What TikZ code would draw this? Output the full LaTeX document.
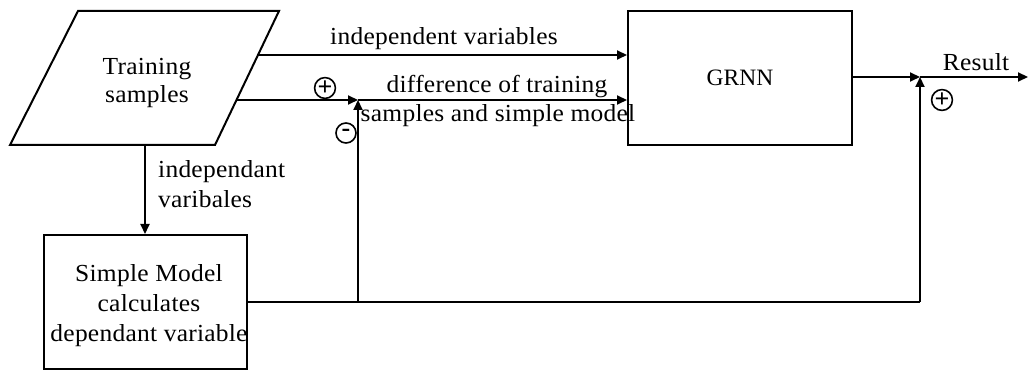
\documentclass[tikz,border=0pt]{standalone}
\usepackage{fontspec}
\setmainfont{Liberation Serif}[FakeStretch=1.04, LetterSpace=1]
\newfontfamily\capsfont{Liberation Serif}
\usetikzlibrary{arrows.meta}

\tikzset{
  conn/.style={line width=2pt},
  flow/.style={conn, -{Triangle[length=10pt,width=9pt]}},
  box/.style={draw, line width=2pt, inner sep=0pt},
  lbl/.style={inner sep=0pt, font=\fontsize{24.5}{30}\selectfont},
  sign/.style={draw, circle, line width=1.6pt, minimum size=20pt, inner sep=0pt,
    font=\fontsize{26}{26}\capsfont\bfseries},
}

\begin{document}
\begin{tikzpicture}[x=1pt, y=-1pt]
\useasboundingbox (0,0) rectangle (1028,371);

% input data (parallelogram)
\draw[line width=2pt] (78,11) -- (279,11) -- (215,145) -- (10,145) -- cycle;
\node[lbl, align=center, font=\fontsize{24.5}{28}\selectfont] (ts) at (147,83) {Training\\samples};
\coordinate (tsA) at (258,55);
\coordinate (tsB) at (236.5,100);
\coordinate (tsS) at (145,145);

% network and simple model
\node[box, minimum width=224pt, minimum height=134pt, font=\fontsize{23.5}{30}\capsfont] (grnn) at (740,78) {GRNN};
\node[box, minimum width=203pt, minimum height=134pt] (sm) at (145.5,302) {};
\node[lbl, align=center] (smt) at (149,306) {Simple Model\\calculates\\dependant variable};

% junctions
\coordinate (j1) at (358,100);
\coordinate (j2) at (920,77);
\coordinate (b1) at (358,302);
\coordinate (b2) at (920,302);
\coordinate (res) at (1028,77);

% connectors
\draw[flow] (tsA) -- (tsA -| grnn.west);
\draw[flow] (tsB) -- (j1);
\draw[flow] (j1) -- (j1 -| grnn.west);
\draw[flow] (tsS) -- (tsS |- sm.north);
\draw[conn] (sm.east) -- (b1);
\draw[flow] (b1) -- (j1);
\draw[conn] (b1) -- (b2);
\draw[flow] (b2) -- (j2);
\draw[flow] (grnn.east |- j2) -- (j2);
\draw[flow] (j2) -- (res);

% labels
\node[lbl, anchor=base] (l1) at (444,45) {independent variables};
\node[lbl, anchor=base] (l2) at (497,93) {difference of training};
\node[lbl, anchor=base] (l3) at (498,122) {samples and simple model};
\node[lbl, anchor=base west, align=left] (l4) at (158,208) {independant\\varibales};
\node[lbl, anchor=base] (l5) at (976,71) {Result};

% signs
\node[sign] (p1) at (325,88) {+};
\node[sign] (m1) at (346,133) {-};
\node[sign] (p2) at (942,100) {+};
\end{tikzpicture}
\end{document}
